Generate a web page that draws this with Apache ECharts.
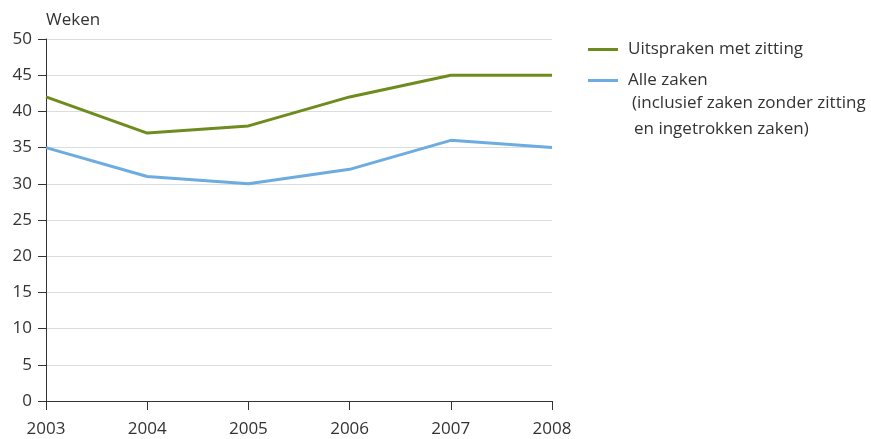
<!DOCTYPE html>
<html><head><meta charset="utf-8">
<script src="https://cdn.jsdelivr.net/npm/echarts@6/dist/echarts.min.js"></script>
<style>html,body{margin:0;padding:0;background:#fff}#c{width:871px;height:439px}</style>
</head><body><div id="c"></div>
<script>
const years = ['2003','2004','2005','2006','2007','2008'];
const uitspraken = [42, 37, 38, 42, 45, 45];
const alleZaken = [35, 31, 30, 32, 36, 35];
const seriesNames = ['Uitspraken met zitting', 'Alle zaken'];
const noteLines = ['(inclusief zaken zonder zitting', 'en ingetrokken zaken)'];
const font = 'Open Sans';
const chart = echarts.init(document.getElementById('c'), null, {renderer:'canvas'});
chart.setOption({
  animation:false,
  textStyle:{fontFamily:font},
  grid:{left:46, right:319, top:39, bottom:38},
  legend:{
    orient:'vertical', left:583, top:36, itemGap:14,
    itemWidth:30, itemHeight:3, icon:'rect',
    textStyle:{fontFamily:font, fontSize:17, color:'#333', padding:[0,0,0,5]},
    data:seriesNames
  },
  graphic:[
    {type:'text', left:632, top:95, style:{text:noteLines[0], font:'17px "Open Sans"', fill:'#333'}},
    {type:'text', left:634, top:121, style:{text:noteLines[1], font:'17px "Open Sans"', fill:'#333'}}
  ],
  xAxis:{
    type:'category', data:years, boundaryGap:false,
    axisLine:{lineStyle:{color:'#333', width:1}},
    axisTick:{show:true, length:9, lineStyle:{color:'#333'}},
    axisLabel:{color:'#333', fontSize:17, margin:20, fontFamily:font}
  },
  yAxis:{
    type:'value', min:0, max:50, interval:5,
    name:'Weken', nameLocation:'end', nameGap:10,
    nameTextStyle:{color:'#333', fontSize:17, align:'left', fontFamily:font},
    axisLine:{show:true, lineStyle:{color:'#333', width:1}},
    axisTick:{show:true, length:8, lineStyle:{color:'#333'}},
    axisLabel:{color:'#333', fontSize:17, margin:14, fontFamily:font},
    splitLine:{lineStyle:{color:'#dcdcdc', width:1}}
  },
  series:[
    {name:seriesNames[0], type:'line', data:uitspraken, symbol:'none', lineStyle:{color:'#6e8c1e', width:3}, itemStyle:{color:'#6e8c1e'}},
    {name:seriesNames[1], type:'line', data:alleZaken, symbol:'none', lineStyle:{color:'#6cace0', width:3}, itemStyle:{color:'#6cace0'}}
  ]
});
</script></body></html>
